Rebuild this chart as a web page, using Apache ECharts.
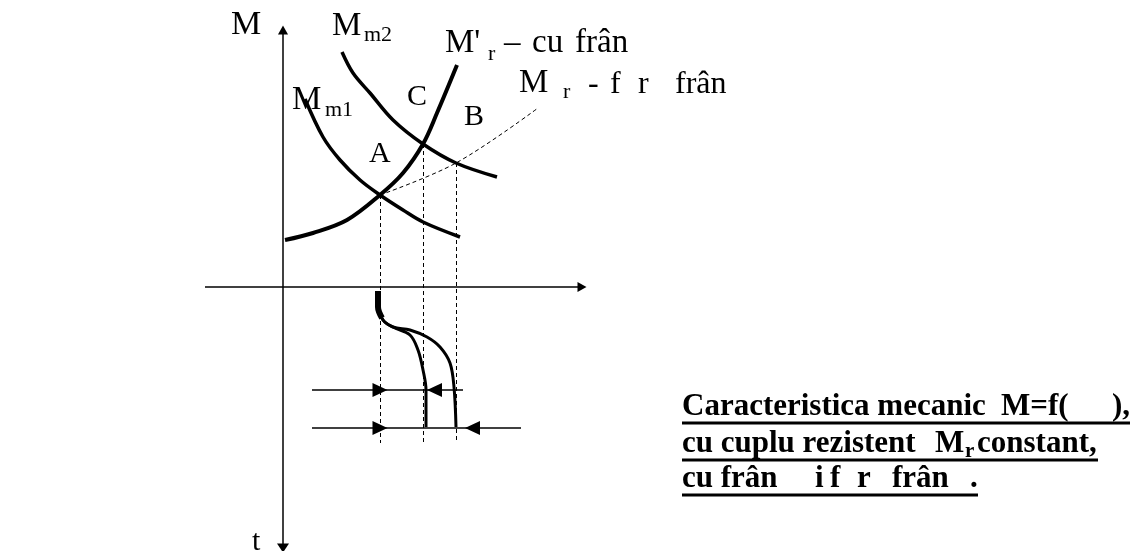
<!DOCTYPE html>
<html>
<head>
<meta charset="utf-8">
<script src="https://cdn.jsdelivr.net/npm/echarts@6/dist/echarts.min.js"></script>
<style>
  html, body { margin: 0; background: #fff; }
  #chart { width: 1142px; height: 551px; }
</style>
</head>
<body>
<div id="chart"></div>
<script>
// (omega, M) units, origin where the two axes cross; the lower half is the time axis t
const mm1Curve = [[22, 188], [40, 150], [57, 127], [77, 107], [97, 92], [120, 77], [140, 65], [177, 50]];
const mm2Curve = [[59, 235], [70, 214], [87, 194], [110, 167], [140, 143], [173, 124], [214, 110]];
const mrBrake = [[2, 47], [30, 54], [64, 67], [97, 92], [120, 114], [140, 143], [154, 174], [174, 222]];
const mrFree = [[97, 92], [173, 124], [255, 179]];
// speed against time after the switch from Mm1 to Mm2
const tBrake = [[95, -6], [95, -18], [100, -33], [110, -40], [127, -48], [135, -63], [140, -83], [143, -103], [143, -140]];
const tFree = [[95, -6], [95, -18], [100, -33], [110, -40], [127, -43], [144, -50], [157, -60], [167, -76], [171, -100], [173, -140]];
const tStart = [[95, -4], [95, -20], [99, -31]];
// operating points A, C, B
const opPoints = [[97, 92], [140, 143], [173, 124]];
const dropTo = -156;
// omega marks on the time side
const markLevels = [-103, -141];
const markFrom = [29, 29];
const markTo = [180, 238];
const arrowsRight = [[97, -103], [97, -141]];
const arrowsLeft = [[151.5, -103], [189.5, -141]];
const omegaAxis = [-78, 299];
const mAxis = [-261, 257];

const chart = echarts.init(document.getElementById('chart'));

function txt(s, left, base, size, bold) {
  const font = (bold ? 'bold ' : '') + size + 'px "Liberation Serif", "Times New Roman", serif';
  return {
    type: 'text', x: left, y: base - 0.34 * size, z: 10,
    style: { text: s, font: font, fill: '#000', align: 'left', verticalAlign: 'middle', textAlign: 'left', textVerticalAlign: 'middle' }
  };
}
function uline(x1, x2, y) {
  return { type: 'line', z: 10, shape: { x1: x1, y1: y, x2: x2, y2: y }, style: { stroke: '#000', lineWidth: 3 } };
}

const curve = (data, w, dashed) => ({
  type: 'line', data: data, smooth: 0.35, symbol: 'none', clip: false, silent: true,
  lineStyle: { color: '#000', width: w, type: dashed ? [4, 3] : 'solid' }
});

const marks = [];
// axes
marks.push([{ coord: [omegaAxis[0], 0], symbol: 'none' }, { coord: [omegaAxis[1], 0], symbol: 'triangle', symbolSize: [10, 9] }]);
marks.push([{ coord: [0, mAxis[0]], symbol: 'triangle', symbolSize: [12, 9] }, { coord: [0, mAxis[1]], symbol: 'triangle', symbolSize: [10, 9] }]);
// horizontal omega marks
markLevels.forEach((y, i) => {
  marks.push([{ coord: [markFrom[i], y], symbol: 'none' }, { coord: [markTo[i], y], symbol: 'none' }]);
});
const drops = opPoints.map(p => [
  { coord: [p[0], p[1]], symbol: 'none' },
  { coord: [p[0], dropTo], symbol: 'none' }
]);

const option = {
  animation: false,
  backgroundColor: '#fff',
  grid: { left: 0, right: 0, top: 0, bottom: 0 },
  xAxis: { type: 'value', min: -283, max: 859, show: false },
  yAxis: { type: 'value', min: -264, max: 287, show: false },
  series: [
    curve(mm1Curve, 3.5),
    curve(mm2Curve, 3.5),
    curve(mrBrake, 4),
    curve(mrFree, 1, true),
    curve(tBrake, 3),
    curve(tFree, 3),
    curve(tStart, 6),
    {
      type: 'line', data: [], silent: true,
      markLine: {
        silent: true, animation: false, label: { show: false },
        lineStyle: { color: '#000', width: 1.5, type: 'solid' },
        data: marks
      }
    },
    {
      type: 'line', data: [], silent: true,
      markLine: {
        silent: true, animation: false, label: { show: false },
        lineStyle: { color: '#000', width: 1, type: [4, 3] },
        data: drops
      }
    },
    {
      type: 'scatter', data: arrowsRight, symbol: 'triangle', symbolRotate: -90,
      symbolSize: [14, 15], itemStyle: { color: '#000', opacity: 1 }, silent: true, z: 5
    },
    {
      type: 'scatter', data: arrowsLeft, symbol: 'triangle', symbolRotate: 90,
      symbolSize: [14, 15], itemStyle: { color: '#000', opacity: 1 }, silent: true, z: 5
    }
  ],
  graphic: [
    txt('M', 231, 37, 34),
    txt('M', 332, 38, 33), txt('m2', 364, 43, 22),
    txt('M', 292, 112, 33), txt('m1', 325, 118, 22),
    txt('C', 407, 107, 30), txt('B', 464, 127, 30), txt('A', 369, 164, 30),
    txt("M'", 445, 55, 33), txt('r', 488, 62, 22),
    txt('–', 504, 55, 33), txt('cu', 532, 55, 33), txt('frân', 575, 55, 33),
    txt('M', 519, 95, 33), txt('r', 563, 100, 22),
    txt('-', 588, 95, 32), txt('f', 610, 95, 32), txt('r', 638, 95, 32), txt('frân', 675, 95, 32),
    txt('t', 252, 552, 30),
    txt('Caracteristica mecanic', 682, 418, 31, true), txt('M=f(', 1001, 418, 31, true), txt('),', 1112, 418, 31, true),
    uline(682, 1130, 423),
    txt('cu cuplu rezistent', 682, 455, 31, true), txt('M', 935, 455, 31, true),
    txt('r', 965, 459, 21, true), txt('constant,', 977, 455, 31, true),
    uline(682, 1098, 460),
    txt('cu frân', 682, 490, 31, true), txt('i', 815, 490, 31, true), txt('f', 830, 490, 31, true),
    txt('r', 857, 490, 31, true), txt('frân', 892, 490, 31, true), txt('.', 970, 490, 31, true),
    uline(682, 978, 495)
  ]
};
chart.setOption(option);
</script>
</body>
</html>
